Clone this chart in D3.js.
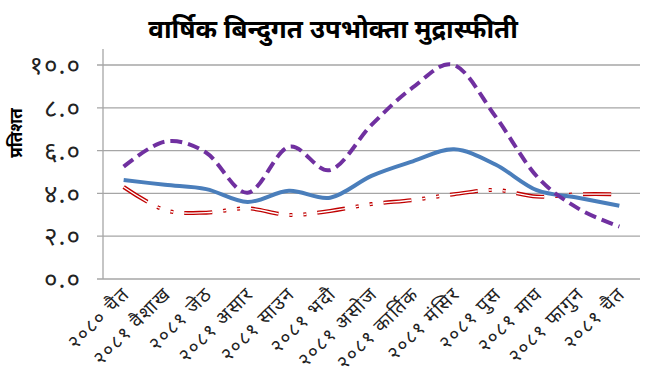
<!DOCTYPE html>
<html>
<head>
<meta charset="utf-8">
<script src="https://cdn.jsdelivr.net/npm/d3@7"></script>
<style>
  body { margin: 0; background: #fff; }
  svg { display: block; font-family: "Noto Sans", "Noto Sans Devanagari", "Lohit Devanagari", sans-serif; }
</style>
</head>
<body>
<div id="chart"></div>
<script>
// months on the category axis
const months = [
  "२०८० चैत", "२०८१ वैशाख", "२०८१ जेठ", "२०८१ असार", "२०८१ साउन", "२०८१ भदौ",
  "२०८१ असोज", "२०८१ कार्तिक", "२०८१ मंसिर", "२०८१ पुस", "२०८१ माघ", "२०८१ फागुन", "२०८१ चैत"
];
// series
const overall = [4.63, 4.40, 4.20, 3.60, 4.12, 3.80, 4.82, 5.50, 6.06, 5.35, 4.15, 3.80, 3.42];
const food    = [5.25, 6.42, 5.90, 4.03, 6.18, 5.09, 7.20, 8.95, 10.0, 7.60, 4.80, 3.30, 2.45];
const nonFood = [4.30, 3.22, 3.10, 3.30, 2.99, 3.18, 3.50, 3.69, 3.96, 4.16, 3.85, 3.96, 3.96];
const yTicks = [0, 2, 4, 6, 8, 10];

const title = "वार्षिक बिन्दुगत उपभोक्ता मुद्रास्फीती";
const yLabel = "प्रतिशत";

const width = 655, height = 388;
const margin = { top: 65, right: 15, bottom: 109, left: 103 };

const devDigits = "०१२३४५६७८९";
const toDev = s => String(s).replace(/[0-9]/g, c => devDigits[+c]);

const svg = d3.select("#chart").append("svg")
    .attr("width", width)
    .attr("height", height);

const x = d3.scalePoint()
    .domain(months)
    .range([margin.left, width - margin.right])
    .padding(0.5);

const y = d3.scaleLinear()
    .domain([0, 10])
    .range([height - margin.bottom, margin.top]);

// title
svg.append("text")
    .attr("x", 333)
    .attr("y", 38)
    .attr("text-anchor", "middle")
    .attr("font-size", 26)
    .attr("font-weight", "bold")
    .text(title);

// y label
svg.append("text")
    .attr("transform", `translate(22,${133}) rotate(-90)`)
    .attr("text-anchor", "middle")
    .attr("font-size", 17)
    .attr("font-weight", "bold")
    .text(yLabel);

// gridlines
svg.append("g")
    .selectAll("line")
    .data(yTicks)
    .join("line")
    .attr("x1", margin.left - 6)
    .attr("x2", width - margin.right)
    .attr("y1", d => y(d))
    .attr("y2", d => y(d))
    .attr("stroke", "#a6a6a6")
    .attr("stroke-width", 1.3);

// y axis line
svg.append("line")
    .attr("x1", margin.left).attr("x2", margin.left)
    .attr("y1", 49).attr("y2", y(0))
    .attr("stroke", "#a6a6a6")
    .attr("stroke-width", 1.3);

// y tick labels
svg.append("g")
    .selectAll("text")
    .data(yTicks)
    .join("text")
    .attr("x", 81)
    .attr("y", d => y(d))
    .attr("dy", "0.35em")
    .attr("text-anchor", "end")
    .attr("font-size", 26)
    .attr("letter-spacing", 1)
    .attr("fill", "#222")
    .text(d => toDev(d.toFixed(1)));

// x tick labels
svg.append("g")
    .selectAll("text")
    .data(months)
    .join("text")
    .attr("transform", d => `translate(${x(d) + 7},${y(0) + 16}) rotate(-45)`)
    .attr("text-anchor", "end")
    .attr("font-size", 19)
    .attr("letter-spacing", 1.5)
    .attr("fill", "#222")
    .text(d => toDev(d));

const line = d3.line()
    .x((d, i) => x(months[i]))
    .y(d => y(d))
    .curve(d3.curveCardinal);

// non-food: double red dash-dot-dot
const redDash = "28,11,3,11,3,11";
svg.append("path")
    .attr("d", line(nonFood))
    .attr("fill", "none")
    .attr("stroke", "#c00000")
    .attr("stroke-width", 4)
    .attr("stroke-dasharray", redDash);
svg.append("path")
    .attr("d", line(nonFood))
    .attr("fill", "none")
    .attr("stroke", "#fff")
    .attr("stroke-width", 1.4)
    .attr("stroke-dasharray", redDash);

// overall
svg.append("path")
    .attr("d", line(overall))
    .attr("fill", "none")
    .attr("stroke", "#4a7ebb")
    .attr("stroke-width", 4);

// food
svg.append("path")
    .attr("d", line(food))
    .attr("fill", "none")
    .attr("stroke", "#7030a0")
    .attr("stroke-width", 4)
    .attr("stroke-dasharray", "12,6");
</script>
</body>
</html>
